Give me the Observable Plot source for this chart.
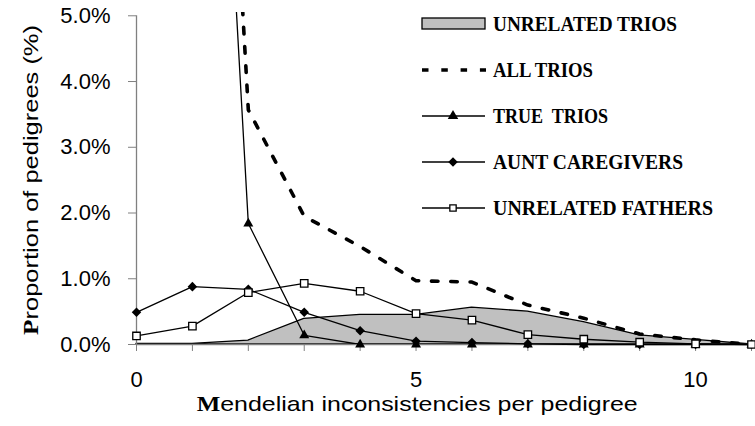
<!DOCTYPE html>
<html><head><meta charset="utf-8">
<script src="https://cdn.jsdelivr.net/npm/d3@7"></script>
<script src="https://cdn.jsdelivr.net/npm/@observablehq/plot@0.6"></script>
<style>
html,body{margin:0;padding:0;background:#fff;}
#chart{width:755px;height:426px;overflow:hidden;}
</style></head><body><div id="chart"></div>
<script>
// Mendelian inconsistencies per pedigree (x categories)
const inconsistencies = [0, 1, 2, 3, 4, 5, 6, 7, 8, 9, 10, 11];
// Proportion of pedigrees (%) per series
const unrelatedTrios   = [0.01, 0.01, 0.06, 0.39, 0.45, 0.45, 0.56, 0.50, 0.34, 0.14, 0.07, 0.00];
const allTrios         = [50.0, 18.5, 3.57, 1.95, 1.49, 0.97, 0.95, 0.60, 0.40, 0.16, 0.07, 0.00];
const trueTrios        = [60.0, 17.0, 1.84, 0.14, 0.00, 0.00, 0.00, 0.00, 0.00, 0.00, 0.00, 0.00];
const auntCaregivers   = [0.49, 0.88, 0.84, 0.49, 0.21, 0.05, 0.03, 0.01, 0.00, 0.00, 0.00, 0.00];
const unrelatedFathers = [0.13, 0.28, 0.79, 0.93, 0.81, 0.47, 0.37, 0.15, 0.08, 0.035, 0.01, 0.00];
const yTicks = [0, 1, 2, 3, 4, 5];
const xTicks = [0, 1, 2, 3, 4, 5, 6, 7, 8, 9, 10, 11];
const xTickLabels = [0, 5, 10];
const legendLabels = ["UNRELATED TRIOS", "ALL TRIOS", "TRUE  TRIOS", "AUNT CAREGIVERS", "UNRELATED FATHERS"];
const xTitle = ["M", "endelian inconsistencies per pedigree"];
const yTitle = ["P", "roportion of pedigrees (%)"];

const rows = (arr) => inconsistencies.map((x, i) => ({x, v: arr[i]}));
const ymax = 5.05;
const inView = (d) => d.v <= 5;

const plot = Plot.plot({
  width: 755, height: 426,
  marginLeft: 136, marginRight: 4, marginTop: 12, marginBottom: 82,
  style: {fontFamily: "'Liberation Sans', Arial, sans-serif", fontSize: "22px", background: "#fff", color: "#000"},
  x: {domain: [0, 11]},
  y: {domain: [0, ymax]},
  marks: [
    Plot.areaY(rows(unrelatedTrios), {x: "x", y: "v", fill: "#c0c0c0", stroke: "#000", strokeWidth: 1.3}),
    Plot.ruleY([0], {stroke: "#808080", strokeWidth: 1.3}),
    Plot.ruleX([0], {y1: 0, y2: 5, stroke: "#808080", strokeWidth: 1.3}),
    Plot.axisY({ticks: yTicks, tickFormat: d => d.toFixed(1) + "%", tickSize: 8, tickPadding: 18, stroke: "#808080", label: null}),
    Plot.axisX({ticks: xTicks, tickFormat: d => xTickLabels.includes(d) ? String(d) : "", tickSize: 7, tickPadding: 20, stroke: "#808080", label: null}),
    Plot.lineY(rows(allTrios), {x: "x", y: "v", stroke: "#000", strokeWidth: 3.6, strokeDasharray: "6.5,12.8", clip: true}),
    Plot.lineY(rows(trueTrios), {x: "x", y: "v", stroke: "#000", strokeWidth: 1.3, clip: true}),
    Plot.lineY(rows(auntCaregivers), {x: "x", y: "v", stroke: "#000", strokeWidth: 1.3}),
    Plot.lineY(rows(unrelatedFathers), {x: "x", y: "v", stroke: "#000", strokeWidth: 1.3}),
    Plot.dot(rows(auntCaregivers).filter(inView), {x: "x", y: "v", symbol: "diamond2", r: 4.3, fill: "#000", stroke: "none"}),
    Plot.dot(rows(trueTrios).filter(inView), {x: "x", y: "v", symbol: "triangle", r: 3.7, fill: "#000", stroke: "none"}),
    Plot.dot(rows(unrelatedFathers), {x: "x", y: "v", symbol: "square", r: 4.2, fill: "#fff", stroke: "#000", strokeWidth: 1.3})
  ]
});
document.getElementById("chart").appendChild(plot);

const svg = d3.select(plot);
// Axis titles (first letter in bold serif, as in the original)
const xt = svg.append("text")
  .attr("x", 196.7).attr("y", 411)
  .attr("text-anchor", "start")
  .attr("textLength", 441).attr("lengthAdjust", "spacingAndGlyphs")
  .attr("font-size", 21).attr("fill", "#000");
xt.append("tspan").attr("font-family", "'Liberation Serif', 'Times New Roman', serif").attr("font-weight", "bold").text(xTitle[0]);
xt.append("tspan").attr("font-family", "'Liberation Sans', Arial, sans-serif").text(xTitle[1]);

const yt = svg.append("text")
  .attr("transform", "translate(38,335) rotate(-90)")
  .attr("x", 0).attr("y", 0)
  .attr("text-anchor", "start")
  .attr("textLength", 310).attr("lengthAdjust", "spacingAndGlyphs")
  .attr("font-size", 21).attr("fill", "#000");
yt.append("tspan").attr("font-family", "'Liberation Serif', 'Times New Roman', serif").attr("font-weight", "bold").text(yTitle[0]);
yt.append("tspan").attr("font-family", "'Liberation Sans', Arial, sans-serif").text(yTitle[1]);

// Legend
const lg = svg.append("g").attr("text-anchor", "start");
const rowY = [23.5, 70, 116, 162, 208];
const sx1 = 422, sx2 = 485, tx = 493;
const legendLen = [184, 100, 115, 190, 220];
lg.append("rect").attr("x", sx1).attr("y", rowY[0] - 5.5).attr("width", sx2 - sx1).attr("height", 11)
  .attr("fill", "#c0c0c0").attr("stroke", "#000").attr("stroke-width", 1.3);
lg.append("line").attr("x1", sx1).attr("x2", sx2 + 1).attr("y1", rowY[1]).attr("y2", rowY[1])
  .attr("stroke", "#000").attr("stroke-width", 3.6).attr("stroke-dasharray", "6.5,12.8");
for (let i = 2; i < 5; i++) {
  lg.append("line").attr("x1", sx1).attr("x2", sx2).attr("y1", rowY[i]).attr("y2", rowY[i])
    .attr("stroke", "#000").attr("stroke-width", 1.3);
}
const sym = (type, r) => d3.symbol(type, r * r * Math.PI)();
lg.append("path").attr("d", sym(d3.symbolTriangle, 3.9)).attr("transform", `translate(453,${rowY[2]})`).attr("fill", "#000");
lg.append("path").attr("d", sym(d3.symbolDiamond2, 4.3)).attr("transform", `translate(453,${rowY[3]})`).attr("fill", "#000");
lg.append("path").attr("d", d3.symbol(d3.symbolSquare, 40)()).attr("transform", `translate(453,${rowY[4]})`).attr("fill", "#fff").attr("stroke", "#000").attr("stroke-width", 1.3);
legendLabels.forEach((t, i) => {
  lg.append("text").attr("x", tx).attr("y", rowY[i]).attr("dy", "0.35em")
    .attr("text-anchor", "start")
    .attr("font-family", "'Liberation Serif', 'Times New Roman', serif").attr("font-weight", "bold")
    .attr("font-size", 21).attr("fill", "#000")
    .attr("textLength", legendLen[i]).attr("lengthAdjust", "spacingAndGlyphs")
    .attr("xml:space", "preserve")
    .text(t);
});
</script>
</body></html>
